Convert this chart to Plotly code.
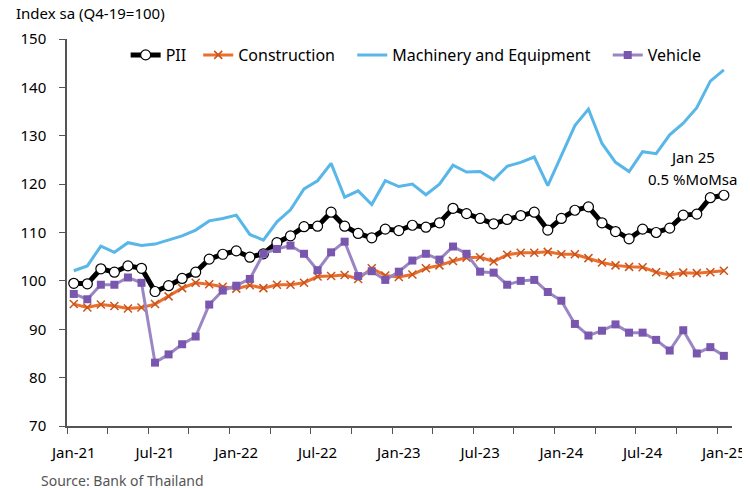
import pandas as pd
import plotly.graph_objects as go

months = list(pd.date_range("2021-01-01", "2025-01-01", freq="MS").strftime("%b-%y"))

pii = [99.5, 99.4, 102.5, 101.8, 103.1, 102.6, 97.8, 99.0, 100.5, 101.8,
       104.5, 105.5, 106.2, 104.9, 105.6, 107.9, 109.3, 111.2, 111.3, 114.2,
       111.3, 109.8, 108.9, 110.7, 110.4, 111.5, 111.1, 112.0, 115.0, 113.9,
       112.9, 111.8, 112.7, 113.5, 114.2, 110.5, 112.9, 114.6, 115.3, 112.0,
       110.2, 108.7, 110.7, 110.0, 110.9, 113.6, 113.8, 117.2, 117.7]
construction = [95.2, 94.5, 95.1, 94.8, 94.3, 94.5, 95.2, 96.8, 98.5, 99.6,
                99.3, 98.8, 98.4, 99.1, 98.5, 99.2, 99.2, 99.6, 100.9, 101.0,
                101.2, 100.4, 102.6, 101.1, 100.8, 101.3, 102.6, 103.2, 104.1, 104.8,
                104.9, 104.0, 105.4, 105.8, 105.8, 106.0, 105.5, 105.5, 104.7, 103.8,
                103.2, 102.9, 102.8, 101.8, 101.2, 101.7, 101.6, 101.8, 102.1]
machinery = [102.1, 103.1, 107.2, 105.9, 107.9, 107.3, 107.6, 108.4, 109.3, 110.5,
             112.4, 112.9, 113.6, 109.6, 108.4, 112.2, 114.7, 119.0, 120.7, 124.3,
             117.3, 118.6, 115.8, 120.7, 119.5, 120.0, 117.8, 120.0, 123.9, 122.5,
             122.6, 120.9, 123.7, 124.5, 125.6, 119.7, 126.0, 132.1, 135.5, 128.4,
             124.5, 122.6, 126.7, 126.3, 130.2, 132.6, 135.8, 141.3, 143.6]
vehicle = [97.3, 96.2, 99.2, 99.2, 100.7, 99.6, 83.1, 84.8, 86.9, 88.5,
           95.1, 98.0, 99.0, 100.4, 105.6, 106.6, 107.3, 105.6, 102.2, 105.9,
           108.1, 101.0, 102.0, 100.2, 101.9, 104.2, 105.6, 104.4, 107.1, 105.6,
           101.9, 101.7, 99.2, 100.0, 100.2, 97.7, 95.9, 91.1, 88.7, 89.7,
           91.0, 89.3, 89.3, 87.8, 85.6, 89.8, 85.0, 86.3, 84.5]

y_ticks = [70, 80, 90, 100, 110, 120, 130, 140, 150]

x = list(range(len(months)))
label_pos = list(range(0, len(months), 6))
label_text = [months[i] for i in label_pos]
minor_pos = [i - 0.5 for i in range(0, len(months), 3)]

FONT = "Noto Sans"

# screen layout (page body adds an 8px offset)
OFF = 8
W, H = 750, 488
PL, PT, PR, PB = 64, 39, 733, 426   # plot area in screen px
pw, ph = PR - PL, PB - PT


def px2paper_x(sx):
    return (sx - PL) / pw


def px2paper_y(sy):
    return 1 - (sy - PT) / ph


fig = go.Figure()
fig.add_trace(go.Scatter(
    x=x, y=pii, name="PII", mode="lines+markers", legend="legend",
    line=dict(color="#000000", width=5),
    marker=dict(symbol="circle", size=10, color="white",
                line=dict(color="#000000", width=1.2)),
))
fig.add_trace(go.Scatter(
    x=x, y=construction, name="Construction", mode="lines+markers", legend="legend2",
    line=dict(color="#EB6E2E", width=3),
    marker=dict(symbol="x-thin", size=8, color="#C8541A",
                line=dict(color="#C8541A", width=1.5)),
))
fig.add_trace(go.Scatter(
    x=x, y=machinery, name="Machinery and Equipment", mode="lines", legend="legend3",
    line=dict(color="#58B6E8", width=3),
))
fig.add_trace(go.Scatter(
    x=x, y=vehicle, name="Vehicle", mode="lines+markers", legend="legend4",
    line=dict(color="#9B86C4", width=3),
    marker=dict(symbol="square", size=8, color="#7A57AE"),
))


def add_text(sx, sy, text, size, color="#000", xanchor="center"):
    fig.add_annotation(x=px2paper_x(sx), y=px2paper_y(sy), xref="paper", yref="paper",
                       text=text, showarrow=False, xanchor=xanchor, yanchor="middle",
                       font=dict(size=size, color=color))


add_text(693, 157, "Jan 25", 15)
add_text(693, 179, "0.5 %MoMsa", 15)
add_text(11, 13, "Index sa (Q4-19=100)", 15, xanchor="left")
add_text(36, 480, "Source: Bank of Thailand", 14, color="#555", xanchor="left")

legend_common = dict(orientation="h", xanchor="left", yanchor="middle",
                     y=px2paper_y(55), font=dict(size=16), bgcolor="rgba(0,0,0,0)",
                     itemwidth=30)
legend_x = {"legend": 123, "legend2": 196, "legend3": 351, "legend4": 608}

fig.update_layout(
    width=W, height=H,
    margin=dict(l=PL - OFF, r=W - (PR - OFF), t=PT - OFF, b=H - (PB - OFF)),
    paper_bgcolor="white", plot_bgcolor="white",
    font=dict(family=FONT, size=15, color="#000"),
    showlegend=True,
    legend=dict(x=px2paper_x(legend_x["legend"]), **legend_common),
    legend2=dict(x=px2paper_x(legend_x["legend2"]), **legend_common),
    legend3=dict(x=px2paper_x(legend_x["legend3"]), **legend_common),
    legend4=dict(x=px2paper_x(legend_x["legend4"]), **legend_common),
    xaxis=dict(
        range=[-0.5, 48.6], tickmode="array", tickvals=label_pos, ticktext=label_text,
        ticks="", showgrid=False, zeroline=False, showline=True, linecolor="#555",
        linewidth=1.5, tickfont=dict(size=15), ticklabelstandoff=12,
        minor=dict(tickmode="array", tickvals=minor_pos, ticks="outside",
                   ticklen=6, tickcolor="#555", showgrid=False),
    ),
    yaxis=dict(
        range=[70, 150], tickmode="array", tickvals=y_ticks, ticks="outside",
        ticklen=6, tickcolor="#555", showgrid=False, zeroline=False, showline=True,
        linecolor="#555", linewidth=1.5, tickfont=dict(size=15), ticklabelstandoff=10,
    ),
)

fig.write_html("out.html")
